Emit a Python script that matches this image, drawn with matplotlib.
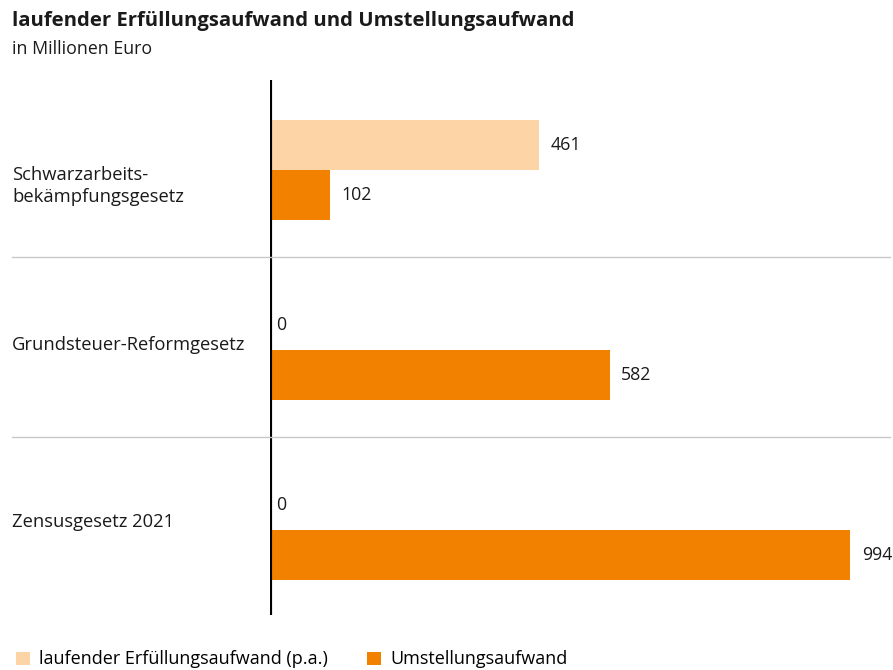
import matplotlib.pyplot as plt
import numpy as np

# Daten
gesetze = ["Schwarzarbeits-\nbekämpfungsgesetz", "Grundsteuer-Reformgesetz", "Zensusgesetz 2021"]
laufend = [461, 0, 0]
umstellung = [102, 582, 994]
serien_namen = ["laufender Erfüllungsaufwand (p.a.)", "Umstellungsaufwand"]

HELL = '#fdd4a6'
ORANGE = '#f28100'
TEXT = '#1a1a1a'
W, H = 893, 670

plt.rcParams['font.family'] = ['Open Sans', 'DejaVu Sans']

fig = plt.figure(figsize=(W / 100, H / 100), dpi=100)
# Achse in Pixelkoordinaten: x von 270 bis 890, y von 80 bis 615
ax = fig.add_axes([270 / W, 1 - 615 / H, 620 / W, 535 / H])

y = np.arange(len(gesetze))
h = 0.278
ax.barh(y - 0.14, laufend, height=h, color=HELL, label=serien_namen[0])
ax.barh(y + 0.14, umstellung, height=h, color=ORANGE, label=serien_namen[1])


def beschriften(ys, werte):
    for yi, v in zip(ys, werte):
        dx = 20 if v > 0 else 10
        ax.text(v + dx, yi, str(v), va='center', ha='left', fontsize=12.8, color=TEXT)


beschriften(y - 0.14, laufend)
beschriften(y + 0.14, umstellung)

ax.set_xlim(0, 620 / 0.5835)
ax.set_ylim(2.472, -0.5)
ax.axis('off')

# vertikale Nulllinie
ax.axvline(0, color='black', linewidth=3)

# Trennlinien
trans = ax.get_yaxis_transform()
for s in [0.483, 1.483]:
    ax.plot([-258 / 620, 1.0], [s, s], transform=trans, color='#c8c8c8',
            linewidth=1, clip_on=False)

# Kategorienbeschriftungen
offsets = [0.09, -0.03, -0.044]
for yi, name, off in zip(y, gesetze, offsets):
    ax.text(-258 / 620, yi + off, name, transform=trans, ha='left', va='center',
            fontsize=13.2, color=TEXT, linespacing=1.3)

fig.text(12 / W, 1 - 21 / H, "laufender Erfüllungsaufwand und Umstellungsaufwand",
         fontsize=14.6, fontweight='bold', ha='left', va='center', color=TEXT)
fig.text(12 / W, 1 - 49 / H, "in Millionen Euro", fontsize=12.8, ha='left',
         va='center', color=TEXT)

leg = fig.legend(loc='lower left', bbox_to_anchor=(0.0, -0.022), ncol=2, frameon=False,
                 fontsize=13, handlelength=0.75, handleheight=0.75, handletextpad=0.5,
                 columnspacing=2.2)

fig.savefig('out.png', dpi=100)
